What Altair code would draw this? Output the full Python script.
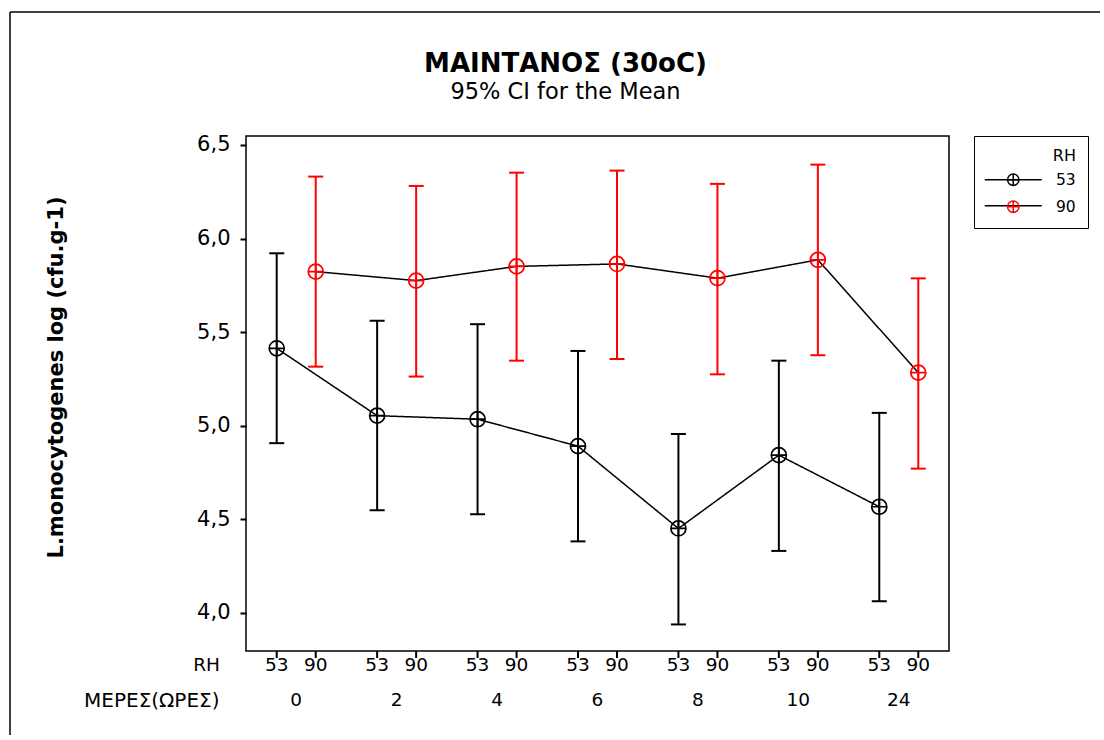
import altair as alt
import pandas as pd

# ---- data ----
days = ["0", "2", "4", "6", "8", "10", "24"]
rh_levels = ["53", "90"]
mean_53 = [5.413, 5.053, 5.034, 4.890, 4.450, 4.842, 4.566]
lo_53 = [4.906, 4.548, 4.526, 4.381, 3.937, 4.330, 4.061]
hi_53 = [5.921, 5.561, 5.542, 5.399, 4.955, 5.347, 5.068]
mean_90 = [5.823, 5.775, 5.851, 5.864, 5.788, 5.886, 5.283]
lo_90 = [5.315, 5.262, 5.347, 5.356, 5.274, 5.376, 4.770]
hi_90 = [6.331, 6.281, 6.352, 6.363, 6.292, 6.395, 5.787]
y_ticks = [4.0, 4.5, 5.0, 5.5, 6.0, 6.5]
y_domain = [3.795, 6.548]
colors = ["black", "red"]

title_text = "ΜΑΙΝΤΑΝΟΣ (30oC)"
subtitle_text = "95% CI for the Mean"
y_title = "L.monocytogenes log (cfu.g-1)"
x_title = "ΜΕΡΕΣ(ΩΡΕΣ)"
rh_row_label = ["RH"]
legend_title = "RH"

rows = []
for i, d in enumerate(days):
    rows.append(dict(day=d, di=i, RH="53", RHl="53", mean=mean_53[i], lo=lo_53[i], hi=hi_53[i]))
    rows.append(dict(day=d, di=i, RH="90", RHl="90", mean=mean_90[i], lo=lo_90[i], hi=hi_90[i]))
df = pd.DataFrame(rows)
row_df = pd.DataFrame({"t": rh_row_label})
one = pd.DataFrame({"k": [0]})

PW, PH = 703, 515
FONT = "DejaVu Sans"
circle_cross = "M-1,0A1,1,0,1,1,1,0A1,1,0,1,1,-1,0M-1,0L1,0M0,-1L0,1"
hline = "M-5,0L5,0"

x_enc = alt.X(
    "day:N", sort=days,
    scale=alt.Scale(paddingInner=0, paddingOuter=0),
    axis=alt.Axis(
        title=x_title, labelAngle=0, ticks=False, tickSize=0, domain=False,
        labelPadding=39, labelFontSize=18.5, labelColor="black",
        titleFontSize=20, titleFontWeight="normal", titleColor="black",
        titleX=-27, titleY=49, titleAlign="right", titleBaseline="middle", titleAngle=0,
    ),
)
xo_enc = alt.XOffset("RH:N", sort=rh_levels, scale=alt.Scale(paddingInner=0, paddingOuter=0.287))


def y_enc(field):
    return alt.Y(
        field + ":Q",
        scale=alt.Scale(domain=y_domain, nice=False, zero=False),
        axis=alt.Axis(
            values=y_ticks, labelExpr="replace(format(datum.value, '.1f'), '.', ',')",
            title=y_title, grid=False, domain=False, tickSize=6, tickWidth=2,
            tickColor="black", labelPadding=10, labelFontSize=21, labelColor="black",
            titleFontSize=21, titleFontWeight="bold", titleColor="black",
            titleX=-190, titleY=241, titleBaseline="middle",
        ),
    )


legend_common = dict(
    orient="none", legendX=728, legendY=0, title=legend_title,
    titleAnchor="end", titleFontSize=16, titleFontWeight="normal",
    labelFontSize=15.5, padding=12, symbolSize=130, symbolStrokeWidth=1.5,
    symbolOffset=19.5, labelOffset=35, titlePadding=8, rowPadding=9,
)
# color: explicit domain (legend with circle-cross symbols)
color_enc = alt.Color(
    "RH:N", scale=alt.Scale(domain=rh_levels, range=colors),
    legend=alt.Legend(symbolType=circle_cross, strokeColor="black",
                      symbolFillColor="transparent",
                      labelColor="black", titleColor="black", **legend_common),
)
# stroke / fill for the interval bars: data-driven domain so they do not merge with the legend
stroke_enc = alt.Stroke("RH:N", scale=alt.Scale(range=colors), legend=None)
fill_enc = alt.Fill("RH:N", scale=alt.Scale(range=colors), legend=None)

base = alt.Chart(df)

line = base.mark_line(color="black", strokeWidth=1.5).encode(
    x=x_enc, xOffset=xo_enc, y=y_enc("mean"), detail="RH:N", order="di:Q",
    strokeDash=alt.StrokeDash(
        "RHl:N", scale=alt.Scale(range=[[1, 0], [1, 0]]),
        legend=alt.Legend(symbolType=hline, symbolStrokeColor="black",
                          labelColor="transparent", titleColor="transparent",
                          **legend_common),
    ),
)

bars = base.mark_rule(strokeWidth=2).encode(
    x=x_enc, xOffset=xo_enc, y=y_enc("lo"), y2="hi:Q", stroke=stroke_enc
)
cap_lo = base.mark_tick(size=15, thickness=2, opacity=1).encode(
    x=x_enc, xOffset=xo_enc, y=y_enc("lo"), fill=fill_enc
)
cap_hi = base.mark_tick(size=15, thickness=2, opacity=1).encode(
    x=x_enc, xOffset=xo_enc, y=y_enc("hi"), fill=fill_enc
)

points = base.mark_point(shape=circle_cross, size=225, filled=False, strokeWidth=1.7, opacity=1).encode(
    x=x_enc, xOffset=xo_enc, y=y_enc("mean"), color=color_enc
)

axis_ticks = base.mark_rule(color="black", strokeWidth=2).encode(
    x=x_enc, xOffset=xo_enc, y=alt.value(PH), y2=alt.value(PH + 7)
)
rh_labels = base.mark_text(fontSize=18.5, baseline="middle", align="center", color="black").encode(
    x=x_enc, xOffset=xo_enc, text="RH:N", y=alt.value(PH + 14)
)
rh_row = alt.Chart(row_df).mark_text(fontSize=18.5, baseline="middle", align="right", color="black").encode(
    x=alt.value(-26), y=alt.value(PH + 14), text="t:N"
)

border_left = alt.Chart(one).mark_rule(color="black", strokeWidth=1.5).encode(
    x=alt.value(-236), y=alt.value(-124), y2=alt.value(800)
)
border_top = alt.Chart(one).mark_rule(color="black", strokeWidth=1.5).encode(
    x=alt.value(-236), x2=alt.value(1000), y=alt.value(-124)
)

chart = alt.layer(
    border_left, border_top, line, bars, cap_lo, cap_hi, points, axis_ticks, rh_labels, rh_row
).properties(
    width=PW, height=PH,
    title=alt.TitleParams(
        text=title_text, subtitle=subtitle_text, fontSize=26, fontWeight="bold",
        font=FONT, subtitleFont=FONT, subtitleFontSize=22.5, color="black",
        subtitleColor="black", anchor="middle", dx=-32, offset=-92, subtitlePadding=4,
    ),
    autosize=alt.AutoSizeParams(type="none"),
    padding={"left": 246, "top": 136, "right": 151, "bottom": 84},
).configure(font=FONT).configure_view(stroke="black", strokeWidth=1.5)

chart.save("out.html", embed_options={"renderer": "svg", "actions": False})
